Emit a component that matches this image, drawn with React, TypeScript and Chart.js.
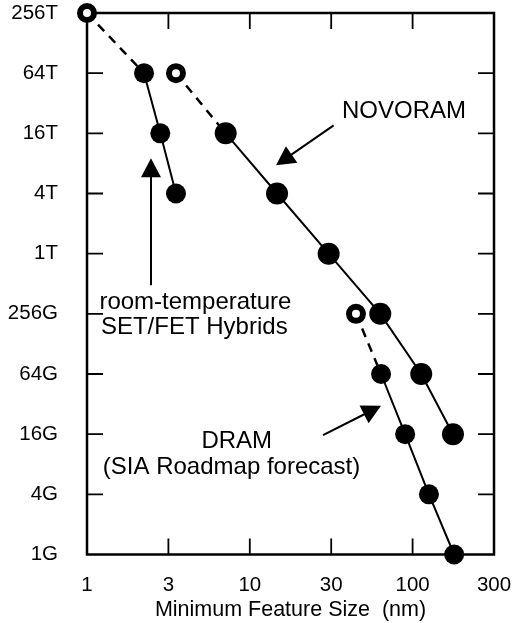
import React, { useEffect, useRef } from 'react';
import { Chart, registerables } from 'chart.js';

Chart.register(...registerables);

const FONT = '"Liberation Sans", Arial, Helvetica, sans-serif';

// Axis ticks (x: half-decade spacing, y: factors of 4, values in Gbit)
const xTickValues = [1, 3.1623, 10, 31.623, 100, 316.23];
const xTickLabels = ['1', '3', '10', '30', '100', '300'];
const yTickValues = [1, 4, 16, 64, 256, 1024, 4096, 16384, 65536, 262144];
const yTickLabels = ['1G', '4G', '16G', '64G', '256G', '1T', '4T', '16T', '64T', '256T'];

// Series (x: feature size in nm, y: density in Gbit)
const setX = [2.24, 2.82, 3.52];
const setY = [65536, 16384, 4096];
const novoramX = [7.11, 14.7, 30.5, 63.3, 113, 177];
const novoramY = [16384, 4096, 1024, 256, 64, 16];
const dramX = [64, 90, 126, 180];
const dramY = [64, 16, 4, 1];
const openX = [1, 3.52, 44.9];
const openY = [262144, 65536, 256];

// Annotations: positions in axis units [log10(x), log4(y)]
const texts = [
  { text: 'NOVORAM', d: 1.947, s: 7.248 },
  { text: 'room-temperature', d: 0.666, s: 4.085 },
  { text: 'SET/FET Hybrids', d: 0.659, s: 3.67 },
  { text: 'DRAM', d: 0.92, s: 1.764 },
  { text: '(SIA Roadmap forecast)', d: 0.888, s: 1.345 },
];
const arrows = [
  { from: [0.393, 4.475], to: [0.393, 6.584] },
  { from: [1.515, 7.132], to: [1.161, 6.468] },
  { from: [1.45, 1.984], to: [1.806, 2.471] },
];

const TICK = 16;

const framePlugin = {
  id: 'frame',
  beforeDatasetsDraw(chart: any) {
    const { ctx, chartArea: a, scales } = chart;
    const xs = scales.x;
    const ys = scales.y;
    ctx.save();
    ctx.strokeStyle = '#000';
    ctx.lineWidth = 1.8;
    ctx.beginPath();
    xTickValues.slice(1, -1).forEach((v) => {
      const px = xs.getPixelForValue(v);
      ctx.moveTo(px, a.bottom);
      ctx.lineTo(px, a.bottom - TICK);
      ctx.moveTo(px, a.top);
      ctx.lineTo(px, a.top + TICK);
    });
    yTickValues.slice(1, -1).forEach((v) => {
      const py = ys.getPixelForValue(v);
      ctx.moveTo(a.left, py);
      ctx.lineTo(a.left + TICK, py);
      ctx.moveTo(a.right, py);
      ctx.lineTo(a.right - TICK, py);
    });
    ctx.stroke();
    ctx.lineWidth = 2.5;
    ctx.strokeRect(a.left, a.top, a.right - a.left, a.bottom - a.top);
    ctx.restore();
  },
  afterDatasetsDraw(chart: any) {
    const { ctx, scales } = chart;
    const xs = scales.x;
    const ys = scales.y;
    const P = (d: number, s: number) => [xs.getPixelForValue(Math.pow(10, d)), ys.getPixelForValue(Math.pow(4, s))];
    ctx.save();
    ctx.fillStyle = '#000';
    ctx.strokeStyle = '#000';
    ctx.font = `24px ${FONT}`;
    ctx.textAlign = 'center';
    ctx.textBaseline = 'alphabetic';
    texts.forEach((t) => {
      const [x, y] = P(t.d, t.s);
      ctx.fillText(t.text, x, y);
    });
    const HL = 19;
    const HW = 10;
    ctx.lineWidth = 2;
    arrows.forEach((ar) => {
      const [x1, y1] = P(ar.from[0], ar.from[1]);
      const [x2, y2] = P(ar.to[0], ar.to[1]);
      const dx = x2 - x1;
      const dy = y2 - y1;
      const len = Math.hypot(dx, dy);
      const ux = dx / len;
      const uy = dy / len;
      const bx = x2 - ux * HL;
      const by = y2 - uy * HL;
      ctx.beginPath();
      ctx.moveTo(x1, y1);
      ctx.lineTo(bx + ux * 2, by + uy * 2);
      ctx.stroke();
      ctx.beginPath();
      ctx.moveTo(x2, y2);
      ctx.lineTo(bx - uy * HW, by + ux * HW);
      ctx.lineTo(bx + uy * HW, by - ux * HW);
      ctx.closePath();
      ctx.fill();
    });
    ctx.restore();
  },
};

const pts = (xs: number[], ys: number[]) => xs.map((x, i) => ({ x, y: ys[i] }));

export default function App() {
  const ref = useRef<HTMLCanvasElement>(null);
  useEffect(() => {
    if (!ref.current) return;
    const links = [
      [{ x: openX[0], y: openY[0] }, { x: setX[0], y: setY[0] }],
      [{ x: openX[1], y: openY[1] }, { x: novoramX[0], y: novoramY[0] }],
      [{ x: openX[2], y: openY[2] }, { x: dramX[0], y: dramY[0] }],
    ];
    const solid = (data: any[], r: number) => ({
      data,
      showLine: true,
      borderColor: '#000',
      borderWidth: 2,
      backgroundColor: '#000',
      pointBackgroundColor: '#000',
      pointBorderWidth: 0,
      pointRadius: r,
      pointHoverRadius: r,
      clip: false as any,
      order: 1,
    });
    const chart = new Chart(ref.current, {
      type: 'scatter',
      data: {
        datasets: [
          {
            data: pts(openX, openY),
            showLine: false,
            pointBackgroundColor: '#fff',
            pointBorderColor: '#000',
            pointBorderWidth: 6,
            pointRadius: 7,
            pointHoverRadius: 7,
            clip: false as any,
            order: 0,
          } as any,
          solid(pts(setX, setY), 10),
          solid(pts(novoramX, novoramY), 11),
          solid(pts(dramX, dramY), 10),
          ...links.map((l) => ({
            data: l,
            showLine: true,
            borderColor: '#000',
            borderWidth: 2.5,
            borderDash: [9, 7],
            pointRadius: 0,
            clip: false as any,
            order: 2,
          })),
        ],
      },
      options: {
        responsive: false,
        animation: false,
        devicePixelRatio: 1,
        layout: { padding: { top: 12.5, right: 30, left: 0, bottom: 0 } },
        plugins: { legend: { display: false }, tooltip: { enabled: false } },
        scales: {
          x: {
            type: 'logarithmic',
            min: 1,
            max: 316.23,
            grid: { display: false, drawTicks: true, tickLength: 19 },
            border: { display: false },
            afterBuildTicks: (s: any) => {
              s.ticks = xTickValues.map((v) => ({ value: v }));
            },
            afterFit: (s: any) => {
              s.height = 68.5;
            },
            ticks: {
              autoSkip: false,
              maxRotation: 0,
              padding: 0,
              color: '#000',
              font: { family: FONT, size: 20.5 },
              callback: (_v: any, i: number) => xTickLabels[i],
            },
            title: {
              display: true,
              text: 'Minimum Feature Size  (nm)',
              color: '#000',
              font: { family: FONT, size: 21.5 },
              padding: { top: 0, bottom: 0 },
            },
          },
          y: {
            type: 'logarithmic',
            min: 1,
            max: 262144,
            grid: { display: false, drawTicks: true, tickLength: 29 },
            border: { display: false },
            afterBuildTicks: (s: any) => {
              s.ticks = yTickValues.map((v) => ({ value: v }));
            },
            afterFit: (s: any) => {
              s.width = 87;
            },
            ticks: {
              autoSkip: false,
              padding: 0,
              color: '#000',
              font: { family: FONT, size: 20.5 },
              callback: (_v: any, i: number) => yTickLabels[i],
            },
          },
        },
      } as any,
      plugins: [framePlugin],
    });
    return () => chart.destroy();
  }, []);
  return (
    <div style={{ position: 'fixed', left: 0, top: 0, width: 524, height: 623, background: '#fff' }}>
      <canvas ref={ref} width={524} height={623} style={{ display: 'block', width: 524, height: 623 }} />
    </div>
  );
}
